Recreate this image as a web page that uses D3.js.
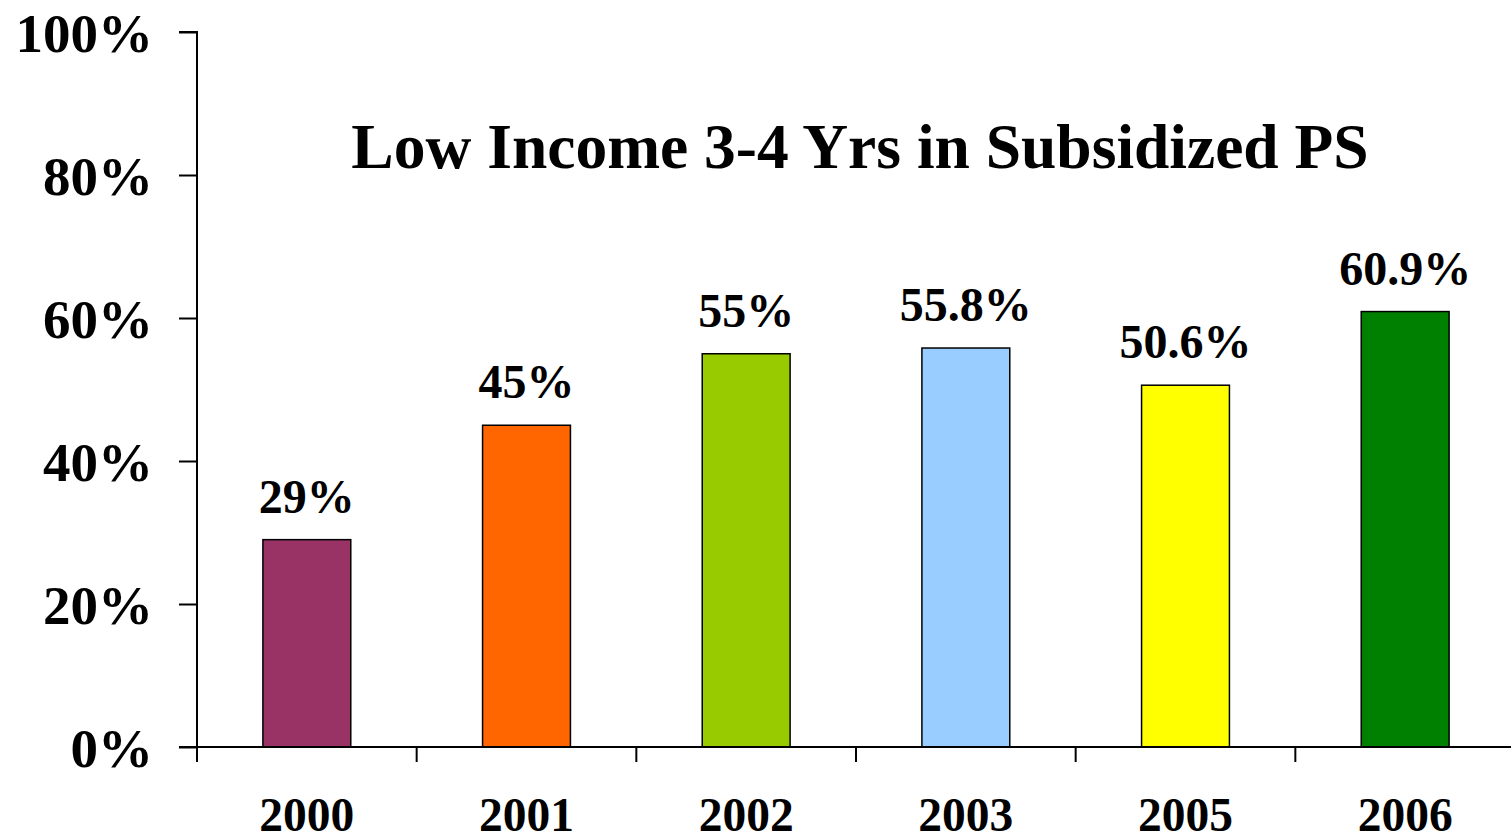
<!DOCTYPE html>
<html>
<head>
<meta charset="utf-8">
<script src="https://cdn.jsdelivr.net/npm/d3@7"></script>
<style>
html,body{margin:0;padding:0;background:#fff;}
svg{display:block;}
text{font-family:"Liberation Serif","Times New Roman",serif;font-weight:bold;fill:#000;}
</style>
</head>
<body>
<svg id="chart" width="1511" height="836"></svg>
<script>
const categories = ["2000","2001","2002","2003","2005","2006"];
const values = [29, 45, 55, 55.8, 50.6, 60.9];
const valueLabels = ["29%","45%","55%","55.8%","50.6%","60.9%"];
const colors = ["#993366","#FF6600","#99CC00","#99CCFF","#FFFF00","#008000"];
const yTicks = [0,20,40,60,80,100];
const title = "Low Income 3-4 Yrs in Subsidized PS";

const svg = d3.select("#chart");
const x0 = 197, x1 = 1515, yTop = 32, yBot = 747;

const x = d3.scaleBand().domain(categories).range([x0, x1]).paddingInner(0.6).paddingOuter(0.3);
const xTick = d3.scaleBand().domain(categories).range([x0, x1]).padding(0);
const y = d3.scaleLinear().domain([0,100]).range([yBot, yTop]);

// bars
svg.selectAll("rect.bar").data(values).enter().append("rect")
  .attr("class","bar")
  .attr("x",(d,i)=>x(categories[i]))
  .attr("width",x.bandwidth())
  .attr("y",d=>y(d))
  .attr("height",d=>y(0)-y(d))
  .attr("fill",(d,i)=>colors[i])
  .attr("stroke","#000").attr("stroke-width",1.5);

// y axis
const yAxis = d3.axisLeft(y).tickValues(yTicks).tickSize(18).tickFormat(d=>d+"%").tickPadding(26);
const gy = svg.append("g").attr("transform",`translate(${x0},0)`).call(yAxis);
gy.select(".domain").attr("stroke","#000").attr("stroke-width",2).attr("d",`M-18,${yTop}H0V${yBot}`);
gy.selectAll(".tick line").attr("stroke","#000").attr("stroke-width",2);
gy.selectAll(".tick text").attr("font-size",55).attr("dy","0.35em")
  .style("font-family",'"Liberation Serif","Times New Roman",serif').style("font-weight","bold").attr("fill","#000");

// x axis line and ticks
const gx = svg.append("g");
gx.append("line").attr("x1",x0-18).attr("x2",1511).attr("y1",yBot).attr("y2",yBot).attr("stroke","#000").attr("stroke-width",2);
const tickPositions = categories.map(c=>xTick(c)).concat([xTick(categories[categories.length-1])+xTick.bandwidth()]);
gx.selectAll("line.xt").data(tickPositions).enter().append("line")
  .attr("class","xt").attr("x1",d=>d).attr("x2",d=>d).attr("y1",yBot).attr("y2",yBot+15)
  .attr("stroke","#000").attr("stroke-width",2);
gx.selectAll("text.xl").data(categories).enter().append("text")
  .attr("class","xl").attr("x",d=>x(d)+x.bandwidth()/2).attr("y",831)
  .attr("text-anchor","middle").attr("font-size",47.5).text(d=>d);

// value labels
svg.selectAll("text.vl").data(values).enter().append("text")
  .attr("class","vl")
  .attr("x",(d,i)=>x(categories[i])+x.bandwidth()/2)
  .attr("y",d=>y(d)-27)
  .attr("text-anchor","middle").attr("font-size",48)
  .text((d,i)=>valueLabels[i]);

// title
svg.append("text").attr("x",860).attr("y",168).attr("text-anchor","middle")
  .attr("font-size",63.5).text(title);
</script>
</body>
</html>
